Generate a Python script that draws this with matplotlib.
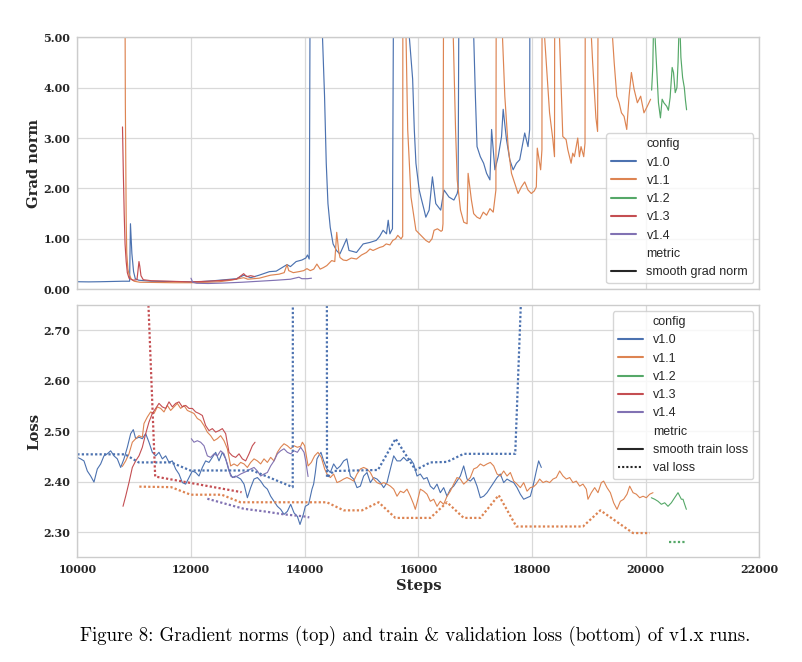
import numpy as np
import matplotlib
matplotlib.use("Agg")
import matplotlib.pyplot as plt
import seaborn as sns
from matplotlib.lines import Line2D
from matplotlib.ticker import FormatStrFormatter

# --- Daten ---------------------------------------------------------------
configs = ["v1.0", "v1.1", "v1.2", "v1.3", "v1.4"]

# smooth grad norm, (step, value); 40.0 = Spitze oberhalb der Skala
gn_v10 = [(10000, 0.15), (10200, 0.147), (10400, 0.15), (10600, 0.155), (10800, 0.16), (10920, 0.16),
          (10935, 1.3), (10960, 0.71), (10990, 0.35), (11020, 0.21), (11080, 0.18), (11300, 0.16),
          (11600, 0.155), (11900, 0.15), (12000, 0.147), (12150, 0.15), (12400, 0.17), (12600, 0.19),
          (12800, 0.21), (12930, 0.28), (13050, 0.23), (13200, 0.28), (13380, 0.35), (13500, 0.36),
          (13690, 0.49), (13750, 0.45), (13850, 0.55), (13950, 0.58), (14020, 0.62), (14050, 0.68),
          (14080, 0.6), (14200, 40.0), (14314, 5.0), (14350, 3.83), (14380, 2.5), (14410, 1.7),
          (14450, 1.23), (14500, 0.9), (14560, 0.77), (14620, 0.7), (14680, 0.85), (14738, 1.0),
          (14780, 0.77), (14850, 0.75), (14912, 0.73), (15030, 0.9), (15150, 0.93), (15260, 0.97),
          (15320, 1.05), (15380, 1.17), (15440, 1.1), (15470, 1.37), (15500, 1.1), (15530, 1.17),
          (15545, 1.2), (15700, 40.0), (15842, 5.0), (15900, 4.17), (15929, 3.17), (15958, 2.5),
          (15987, 2.23), (16016, 1.97), (16045, 1.83), (16103, 1.57), (16132, 1.43), (16190, 1.57),
          (16248, 2.23), (16307, 1.7), (16394, 1.57), (16452, 1.97), (16539, 1.83), (16626, 1.77),
          (16684, 1.9), (16700, 2.0), (16840, 40.0), (16975, 5.0), (17004, 3.83), (17033, 2.83),
          (17091, 2.63), (17149, 2.5), (17201, 2.3), (17260, 2.17), (17289, 3.17), (17347, 2.37),
          (17405, 2.63), (17464, 3.03), (17493, 3.57), (17551, 2.97), (17609, 2.57), (17668, 2.37),
          (17726, 2.5), (17784, 2.57), (17872, 3.1), (17930, 2.83), (17959, 3.17), (18010, 40.0)]
gn_v11 = [(10830, 9.0), (10845, 3.7), (10860, 1.38), (10870, 0.72), (10890, 0.4), (10910, 0.3),
          (10950, 0.2), (11000, 0.16), (11100, 0.14), (11400, 0.135), (11700, 0.13), (12000, 0.13),
          (12300, 0.14), (12500, 0.15), (12700, 0.18), (12927, 0.23), (13000, 0.2), (13200, 0.22),
          (13400, 0.28), (13550, 0.3), (13640, 0.33), (13690, 0.49), (13720, 0.37), (13800, 0.33),
          (13900, 0.35), (13983, 0.37), (14040, 0.41), (14099, 0.37), (14160, 0.4), (14215, 0.5),
          (14273, 0.4), (14330, 0.43), (14390, 0.47), (14476, 0.57), (14530, 0.55), (14564, 1.13),
          (14600, 0.75), (14622, 0.63), (14680, 0.58), (14738, 0.57), (14820, 0.62), (14912, 0.6),
          (15000, 0.68), (15087, 0.73), (15150, 0.8), (15203, 0.77), (15260, 0.8), (15319, 0.83),
          (15380, 0.85), (15435, 0.9), (15500, 0.88), (15551, 0.97), (15600, 1.0), (15638, 1.07),
          (15696, 1.0), (15725, 1.05), (15750, 40.0), (15784, 5.0), (15813, 3.17), (15871, 1.83),
          (15958, 1.17), (16045, 1.07), (16132, 0.97), (16190, 0.93), (16240, 1.0), (16277, 1.17),
          (16336, 1.2), (16400, 1.15), (16423, 1.17), (16434, 1.3), (16520, 40.0), (16615, 5.0),
          (16655, 3.17), (16684, 2.17), (16742, 1.57), (16800, 1.33), (16858, 1.3), (16876, 2.3),
          (16934, 1.77), (16974, 1.5), (17033, 1.43), (17085, 1.4), (17143, 1.53), (17201, 1.47),
          (17260, 1.6), (17318, 1.53), (17365, 1.97), (17420, 40.0), (17481, 5.0), (17522, 3.83),
          (17580, 2.83), (17639, 2.3), (17697, 2.1), (17755, 1.9), (17813, 2.03), (17872, 2.13),
          (17930, 1.97), (17988, 1.9), (18040, 1.95), (18076, 2.03), (18093, 2.8), (18134, 2.5),
          (18152, 2.37), (18175, 2.77), (18200, 40.0), (18222, 5.0), (18251, 4.5), (18309, 3.5),
          (18367, 2.97), (18396, 2.63), (18440, 40.0), (18484, 5.0), (18542, 3.03), (18600, 2.97),
          (18630, 2.77), (18688, 2.5), (18717, 2.7), (18746, 2.63), (18805, 3.0), (18834, 2.63),
          (18863, 2.83), (18910, 2.63), (18933, 2.9), (18990, 40.0), (19045, 5.0), (19067, 4.5),
          (19125, 3.4), (19154, 3.13), (19290, 40.0), (19417, 5.0), (19446, 4.5), (19492, 3.83),
          (19533, 3.7), (19574, 3.5), (19620, 3.43), (19667, 3.17), (19708, 3.83), (19749, 4.3),
          (19796, 3.97), (19854, 3.7), (19912, 3.83), (19970, 3.5), (20029, 3.63), (20087, 3.77)]
gn_v12 = [(20105, 3.95), (20125, 4.4), (20145, 5.6), (20170, 4.9), (20195, 4.36), (20225, 3.7),
          (20260, 3.4), (20290, 3.77), (20320, 3.7), (20370, 3.63), (20400, 3.55), (20430, 3.8),
          (20466, 4.4), (20490, 4.3), (20520, 3.9), (20550, 4.0), (20570, 4.5), (20595, 5.5),
          (20620, 4.6), (20650, 4.2), (20680, 4.0), (20700, 3.75), (20720, 3.56)]
gn_v13 = [(10795, 3.22), (10810, 2.3), (10825, 1.5), (10840, 0.9), (10860, 0.55), (10880, 0.33),
          (10910, 0.22), (10980, 0.18), (11050, 0.19), (11085, 0.55), (11100, 0.45), (11120, 0.27),
          (11160, 0.19), (11300, 0.17), (11600, 0.16), (12000, 0.147), (12300, 0.16), (12600, 0.18),
          (12800, 0.2), (12927, 0.31), (12980, 0.25), (13050, 0.27), (13127, 0.25)]
gn_v14 = [(12000, 0.22), (12030, 0.14), (12100, 0.12), (12300, 0.115), (12600, 0.125), (12900, 0.14),
          (13200, 0.16), (13500, 0.18), (13750, 0.2), (13900, 0.24), (13950, 0.21), (14050, 0.21),
          (14120, 0.22)]

# smooth train loss, (step, value)
tl_v10 = [(10000, 2.448), (10059, 2.445), (10117, 2.441), (10176, 2.421), (10235, 2.411), (10293, 2.399),
          (10352, 2.425), (10411, 2.435), (10469, 2.451), (10528, 2.455), (10587, 2.461), (10645, 2.451),
          (10704, 2.445), (10763, 2.428), (10821, 2.445), (10880, 2.468), (10939, 2.495), (10985, 2.503),
          (11027, 2.485), (11085, 2.488), (11144, 2.485), (11203, 2.495), (11261, 2.478), (11320, 2.458),
          (11379, 2.451), (11437, 2.458), (11496, 2.445), (11555, 2.451), (11613, 2.438), (11672, 2.441),
          (11730, 2.425), (11789, 2.415), (11848, 2.398), (11906, 2.395), (11965, 2.408), (12024, 2.421),
          (12082, 2.418), (12141, 2.411), (12200, 2.428), (12258, 2.441), (12317, 2.438), (12376, 2.448),
          (12434, 2.458), (12493, 2.441), (12552, 2.458), (12610, 2.445), (12669, 2.421), (12728, 2.408),
          (12786, 2.411), (12874, 2.405), (12933, 2.395), (12992, 2.368), (13050, 2.388), (13109, 2.405),
          (13168, 2.408), (13226, 2.401), (13285, 2.391), (13344, 2.385), (13402, 2.371), (13461, 2.361),
          (13520, 2.351), (13578, 2.345), (13637, 2.335), (13696, 2.341), (13754, 2.355), (13813, 2.338),
          (13872, 2.331), (13918, 2.315), (13977, 2.335), (14012, 2.351), (14070, 2.355), (14129, 2.385),
          (14158, 2.395), (14188, 2.418), (14217, 2.445), (14246, 2.451), (14287, 2.458), (14334, 2.441),
          (14393, 2.425), (14452, 2.418), (14510, 2.435), (14569, 2.425), (14628, 2.431), (14686, 2.441),
          (14745, 2.445), (14804, 2.411), (14862, 2.405), (14921, 2.388), (14980, 2.391), (15038, 2.411),
          (15097, 2.418), (15156, 2.398), (15214, 2.408), (15273, 2.405), (15332, 2.398), (15390, 2.388),
          (15449, 2.398), (15508, 2.425), (15567, 2.451), (15625, 2.441), (15684, 2.441), (15742, 2.448),
          (15801, 2.441), (15860, 2.445), (15918, 2.435), (15977, 2.411), (16035, 2.415), (16094, 2.405),
          (16153, 2.408), (16211, 2.391), (16270, 2.385), (16329, 2.395), (16387, 2.378), (16446, 2.388),
          (16505, 2.371), (16563, 2.385), (16622, 2.391), (16681, 2.401), (16739, 2.411), (16798, 2.431),
          (16857, 2.405), (16915, 2.401), (16974, 2.408), (17033, 2.391), (17091, 2.368), (17150, 2.371),
          (17209, 2.378), (17267, 2.388), (17326, 2.398), (17385, 2.408), (17443, 2.415), (17502, 2.398),
          (17561, 2.405), (17619, 2.401), (17678, 2.398), (17737, 2.388), (17795, 2.375), (17854, 2.365),
          (17913, 2.368), (17971, 2.371), (18018, 2.391), (18076, 2.421), (18117, 2.441), (18164, 2.428)]
tl_v11 = [(10792, 2.43), (10851, 2.441), (10909, 2.455), (10968, 2.478), (11027, 2.485), (11085, 2.491),
          (11144, 2.488), (11173, 2.515), (11232, 2.528), (11290, 2.538), (11349, 2.535), (11408, 2.548),
          (11467, 2.545), (11525, 2.538), (11584, 2.551), (11642, 2.541), (11701, 2.548), (11760, 2.555),
          (11818, 2.545), (11877, 2.551), (11936, 2.541), (11994, 2.538), (12053, 2.535), (12112, 2.525),
          (12170, 2.521), (12229, 2.511), (12288, 2.498), (12346, 2.491), (12405, 2.481), (12464, 2.485),
          (12522, 2.491), (12581, 2.481), (12640, 2.465), (12698, 2.431), (12757, 2.435), (12816, 2.431),
          (12874, 2.438), (12933, 2.435), (12992, 2.428), (13050, 2.438), (13109, 2.445), (13168, 2.441),
          (13226, 2.435), (13285, 2.445), (13344, 2.438), (13402, 2.448), (13461, 2.441), (13520, 2.458),
          (13578, 2.468), (13637, 2.475), (13696, 2.471), (13754, 2.465), (13813, 2.471), (13872, 2.468),
          (13930, 2.47), (13960, 2.478), (14000, 2.471), (14060, 2.431), (14117, 2.438), (14175, 2.451),
          (14234, 2.458), (14293, 2.448), (14352, 2.425), (14393, 2.415), (14452, 2.408), (14510, 2.415),
          (14569, 2.398), (14628, 2.401), (14686, 2.405), (14745, 2.408), (14804, 2.405), (14862, 2.401),
          (14921, 2.415), (14980, 2.425), (15038, 2.428), (15097, 2.425), (15156, 2.418), (15214, 2.405),
          (15273, 2.398), (15332, 2.395), (15390, 2.398), (15449, 2.395), (15508, 2.391), (15567, 2.385),
          (15625, 2.371), (15684, 2.381), (15742, 2.378), (15801, 2.385), (15860, 2.371), (15918, 2.355),
          (15947, 2.345), (15977, 2.358), (16035, 2.385), (16094, 2.381), (16153, 2.375), (16211, 2.361),
          (16270, 2.365), (16329, 2.351), (16387, 2.361), (16446, 2.355), (16505, 2.371), (16563, 2.381),
          (16622, 2.395), (16681, 2.408), (16739, 2.405), (16798, 2.395), (16857, 2.401), (16915, 2.408),
          (16974, 2.425), (17033, 2.428), (17091, 2.435), (17150, 2.431), (17209, 2.435), (17267, 2.438),
          (17326, 2.431), (17385, 2.415), (17443, 2.411), (17502, 2.421), (17561, 2.411), (17619, 2.418),
          (17678, 2.401), (17737, 2.395), (17795, 2.388), (17854, 2.398), (17913, 2.381), (17971, 2.388),
          (18030, 2.39), (18076, 2.395), (18135, 2.405), (18194, 2.398), (18252, 2.401), (18311, 2.398),
          (18370, 2.405), (18428, 2.408), (18487, 2.421), (18546, 2.411), (18604, 2.405), (18663, 2.408),
          (18721, 2.398), (18780, 2.401), (18839, 2.391), (18897, 2.395), (18956, 2.385), (18985, 2.365),
          (19044, 2.378), (19103, 2.388), (19161, 2.378), (19220, 2.398), (19261, 2.401), (19320, 2.388),
          (19379, 2.378), (19437, 2.358), (19496, 2.345), (19555, 2.361), (19613, 2.365), (19672, 2.375),
          (19719, 2.391), (19778, 2.378), (19836, 2.375), (19895, 2.368), (19954, 2.371), (20012, 2.368),
          (20071, 2.375), (20129, 2.378)]
tl_v12 = [(20100, 2.368), (20159, 2.365), (20217, 2.361), (20276, 2.355), (20335, 2.358), (20393, 2.351),
          (20452, 2.358), (20510, 2.368), (20569, 2.378), (20628, 2.365), (20657, 2.365), (20686, 2.355),
          (20716, 2.345)]
tl_v13 = [(10804, 2.351), (10851, 2.371), (10909, 2.398), (10968, 2.428), (11027, 2.441), (11085, 2.451),
          (11144, 2.468), (11203, 2.495), (11261, 2.518), (11320, 2.535), (11379, 2.545), (11437, 2.555),
          (11496, 2.548), (11555, 2.545), (11613, 2.558), (11672, 2.548), (11730, 2.555), (11789, 2.558),
          (11848, 2.548), (11906, 2.551), (11965, 2.545), (12024, 2.545), (12082, 2.538), (12141, 2.535),
          (12200, 2.531), (12258, 2.511), (12317, 2.501), (12376, 2.505), (12434, 2.498), (12493, 2.501),
          (12552, 2.505), (12610, 2.495), (12669, 2.458), (12728, 2.451), (12786, 2.448), (12845, 2.455),
          (12904, 2.445), (12962, 2.441), (13021, 2.455), (13080, 2.471), (13127, 2.478)]
tl_v14 = [(12006, 2.485), (12053, 2.478), (12112, 2.481), (12170, 2.478), (12229, 2.471), (12288, 2.451),
          (12346, 2.448), (12405, 2.455), (12464, 2.451), (12522, 2.461), (12581, 2.455), (12640, 2.435),
          (12698, 2.411), (12757, 2.408), (12816, 2.411), (12874, 2.415), (12933, 2.418), (12992, 2.421),
          (13050, 2.425), (13109, 2.428), (13168, 2.421), (13226, 2.411), (13285, 2.415), (13344, 2.418),
          (13402, 2.431), (13461, 2.441), (13520, 2.455), (13578, 2.461), (13637, 2.465), (13696, 2.458),
          (13754, 2.455), (13813, 2.461), (13872, 2.458), (13930, 2.468), (13989, 2.458), (14020, 2.44),
          (14060, 2.41)]

# val loss, (step, value)
vl_v10 = [(10000, 2.454), (10840, 2.454), (11080, 2.438), (11650, 2.438), (11990, 2.422), (13080, 2.422),
          (13790, 2.389), (13800, 4.0), (14385, 4.0), (14393, 2.408), (14510, 2.421), (15290, 2.423),
          (15600, 2.485), (15950, 2.423), (16211, 2.438), (16505, 2.439), (16798, 2.455), (17705, 2.455),
          (18000, 3.34)]
vl_v11 = [(11091, 2.390), (11650, 2.389), (11994, 2.374), (12540, 2.374), (12870, 2.359), (14390, 2.359),
          (14686, 2.343), (15009, 2.343), (15302, 2.359), (15596, 2.328), (16211, 2.328), (16505, 2.359),
          (16798, 2.328), (17091, 2.328), (17414, 2.373), (17725, 2.311), (18897, 2.311), (19203, 2.343),
          (19777, 2.298), (20071, 2.298)]
vl_v12 = [(20411, 2.281), (20687, 2.281)]
vl_v13 = [(11000, 3.47), (11370, 2.41), (12890, 2.379)]
vl_v14 = [(12288, 2.366), (12640, 2.355), (12933, 2.346), (13285, 2.341), (13637, 2.335), (13989, 2.331),
          (14082, 2.329)]

grad_norm = [gn_v10, gn_v11, gn_v12, gn_v13, gn_v14]
train_loss = [tl_v10, tl_v11, tl_v12, tl_v13, tl_v14]
val_loss = [vl_v10, vl_v11, vl_v12, vl_v13, vl_v14]

# --- Stil ----------------------------------------------------------------
sns.set_theme(style="whitegrid", palette="deep")
colors = sns.color_palette("deep", 5)
tick_font = dict(family="DejaVu Serif", weight="bold", size=8)
label_font = dict(family="DejaVu Serif", weight="bold", size=10.6)
legend_font = dict(family="Liberation Sans", size=9)
dotted = (0, (1, 1))

fig = plt.figure(figsize=(8.02, 6.62), dpi=100)
ax1 = fig.add_axes([0.0964, 0.5630, 0.8504, 0.3808])
ax2 = fig.add_axes([0.0964, 0.1582, 0.8504, 0.3811], sharex=ax1)

for data, c in zip(grad_norm, colors):
    s, v = np.array(data).T
    ax1.plot(s, v, color=c, lw=0.85)

for data, c in zip(train_loss, colors):
    s, v = np.array(data).T
    ax2.plot(s, v, color=c, lw=0.8)
for data, c in zip(val_loss, colors):
    s, v = np.array(data).T
    ax2.plot(s, v, color=c, lw=1.6, linestyle=dotted)

ax1.set_xlim(10000, 22000)
ax1.set_ylim(0, 5)
ax2.set_ylim(2.25, 2.75)
ax1.set_xticks(np.arange(10000, 22001, 2000))
ax1.set_yticks(np.arange(0, 5.01, 1))
ax2.set_yticks(np.arange(2.3, 2.71, 0.1))
ax1.yaxis.set_major_formatter(FormatStrFormatter("%.2f"))
ax2.yaxis.set_major_formatter(FormatStrFormatter("%.2f"))
ax1.tick_params(labelbottom=False)

for ax in (ax1, ax2):
    ax.grid(True, color=".85", lw=0.9)
    for sp in ax.spines.values():
        sp.set_color(".8")
        sp.set_linewidth(1.0)
    ax.tick_params(axis="both", length=0, pad=5, colors=".15")
    for lab in ax.get_xticklabels() + ax.get_yticklabels():
        lab.set_fontproperties(tick_font)

ax1.set_ylabel("Grad norm", labelpad=1.5, color=".15", **label_font)
ax2.set_ylabel("Loss", labelpad=1.5, color=".15", **label_font)
ax2.set_xlabel("Steps", labelpad=3, color=".15", **label_font)


def legend_handles(metrics):
    blank = Line2D([], [], color="none")
    h = [blank] + [Line2D([], [], color=c, lw=1.5) for c in colors] + [blank]
    l = ["config"] + configs + ["metric"]
    for name, ls in metrics:
        h.append(Line2D([], [], color=".15", lw=1.5, linestyle=ls))
        l.append(name)
    return h, l


h, l = legend_handles([("smooth grad norm", "-")])
ax1.legend(h, l, loc="lower right", prop=legend_font, labelspacing=0.5, frameon=True,
           framealpha=0.8, edgecolor=".8")
h, l = legend_handles([("smooth train loss", "-"), ("val loss", dotted)])
ax2.legend(h, l, loc="upper right", prop=legend_font, labelspacing=0.5, frameon=True,
           framealpha=0.8, edgecolor=".8")

fig.text(0.517, 0.039, "Figure 8: Gradient norms (top) and train & validation loss (bottom) of v1.x runs.",
         ha="center", va="center", fontsize=13.5, family=["cmr10", "DejaVu Serif"], color="black")

fig.savefig("out.png", dpi=100)
